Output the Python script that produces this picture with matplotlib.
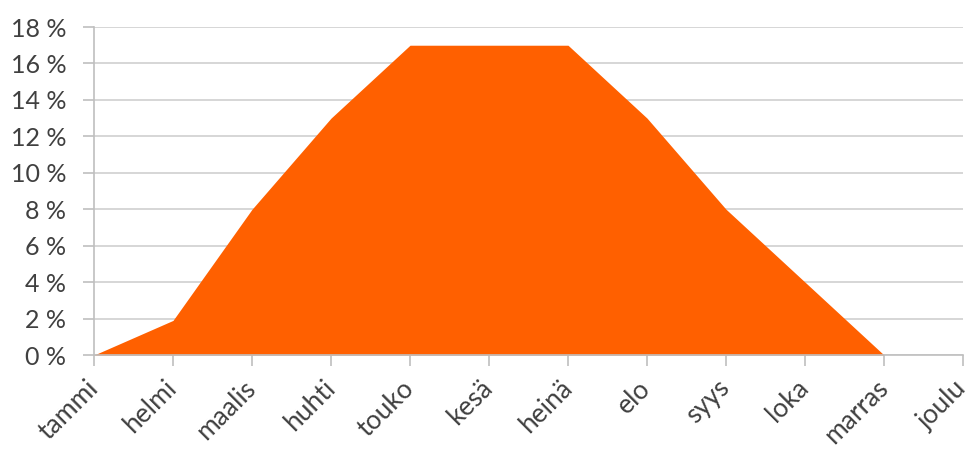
import matplotlib
matplotlib.use("Agg")
import matplotlib.pyplot as plt
import numpy as np

months = ["tammi", "helmi", "maalis", "huhti", "touko", "kesä",
          "heinä", "elo", "syys", "loka", "marras", "joulu"]
share = [0, 1.9, 8, 13, 17, 17, 17, 13, 8, 4, 0, np.nan]
y_ticks = [0, 2, 4, 6, 8, 10, 12, 14, 16, 18]

plt.rcParams['font.family'] = ['Lato', 'DejaVu Sans']
text_col = '#404040'
grid_col = '#d0d0d0'

fig = plt.figure(figsize=(9.71, 4.5), dpi=100)
ax = fig.add_axes([0.0968, 0.211, 0.8950, 0.729])

x = np.arange(len(months))
vals = np.array(share, dtype=float)
ok = ~np.isnan(vals)
ax.fill_between(x[ok], 0, vals[ok], color='#ff6000', linewidth=0, zorder=2)

ax.set_xlim(0, len(months) - 1)
ax.set_ylim(0, 18)
ax.set_yticks(y_ticks)
ax.set_yticklabels([f"{v} %" for v in y_ticks])
ax.set_xticks(x)
ax.set_xticklabels(months, rotation=45, ha='right', va='center',
                   rotation_mode='anchor')

ax.grid(axis='y', color=grid_col, linewidth=1.2, zorder=0)
ax.set_axisbelow(True)
for side in ['top', 'right']:
    ax.spines[side].set_visible(False)
for side in ['left', 'bottom']:
    ax.spines[side].set_color('#bfbfbf')
    ax.spines[side].set_linewidth(1.2)
ax.tick_params(axis='both', colors='#bfbfbf', labelcolor=text_col,
               length=8, width=1.2)
ax.tick_params(axis='y', labelsize=18, pad=12)
ax.tick_params(axis='x', labelsize=19, pad=13)

fig.savefig("out.png", dpi=100)
